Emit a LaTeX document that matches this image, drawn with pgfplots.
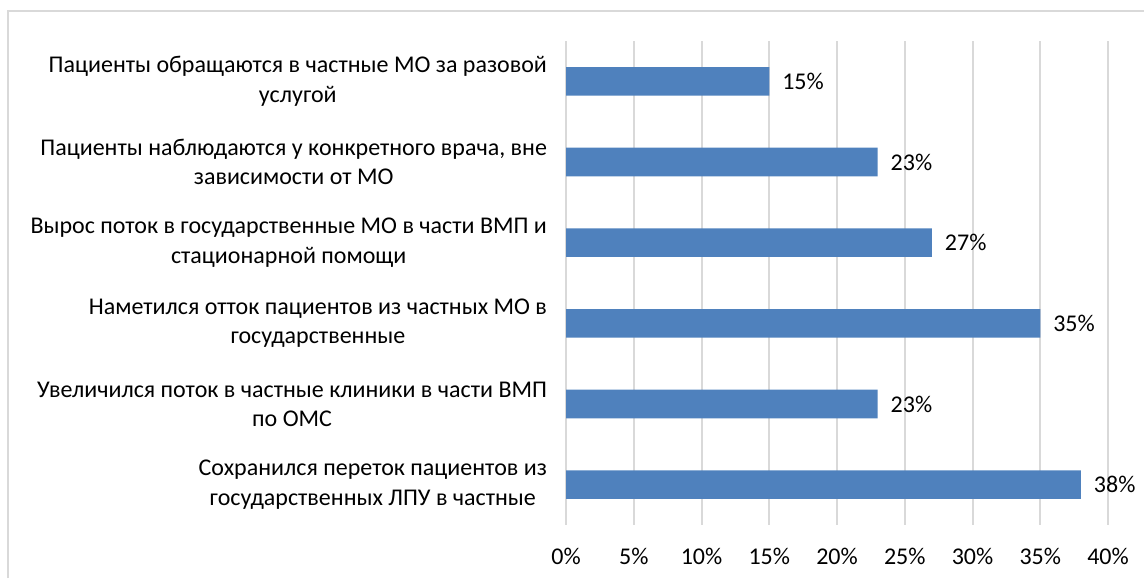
\documentclass[border=0pt]{standalone}
\usepackage{fontspec}
\setmainfont{Carlito}
\usepackage{pgfplots}
\pgfplotsset{compat=1.18}
\definecolor{barblue}{RGB}{79,129,189}
\definecolor{gridgray}{RGB}{217,217,217}
\definecolor{txt}{RGB}{0,0,0}
\begin{document}
\begin{tikzpicture}[x=1pt,y=1pt]
\path[use as bounding box] (0,0) rectangle (572,289);
\draw[gridgray, line width=0.75pt] (4,0) -- (4,283.5) -- (572,283.5);
\begin{axis}[
  at={(283pt,26.5pt)}, anchor=south west,
  scale only axis, width=271pt, height=242pt,
  xmin=0, xmax=40, ymin=-0.5, ymax=5.5,
  y dir=reverse,
  axis line style={draw=none},
  xbar, bar width=14.3pt,
  xtick={0,5,...,40},
  ytick={0,1,2,3,4,5},
  yticklabels={{Пациенты обращаются в частные МО за разовой\\услугой},
    {Пациенты наблюдаются у конкретного врача, вне\\зависимости от МО},
    {Вырос поток в государственные МО в части ВМП и\\стационарной помощи},
    {Наметился отток пациентов из частных МО в\\государственные},
    {Увеличился поток в частные клиники в части ВМП\\по ОМС},
    {Сохранился переток пациентов из\\государственных ЛПУ в частные}},
  yticklabel style={align=center, font=\fontsize{12}{14.6}\selectfont, text=txt, xshift=-6pt},
  xticklabel={\pgfmathprintnumber{\tick}\%},
  xticklabel style={font=\fontsize{12}{14.6}\selectfont, text=txt, yshift=-8pt},
  /pgf/number format/assume math mode=true,
  major tick length=0pt,
  tick style={draw=none},
  xmajorgrids, grid style={gridgray, line width=1pt},
  nodes near coords={\pgfmathprintnumber{\pgfplotspointmeta}\%},
  nodes near coords style={font=\fontsize{12}{14.6}\selectfont, text=txt, anchor=west, xshift=3pt},
  clip=false,
]
\addplot[fill=barblue, draw=none] coordinates {(15,0) (23,1) (27,2) (35,3) (23,4) (38,5)};
\end{axis}
\end{tikzpicture}
\end{document}
